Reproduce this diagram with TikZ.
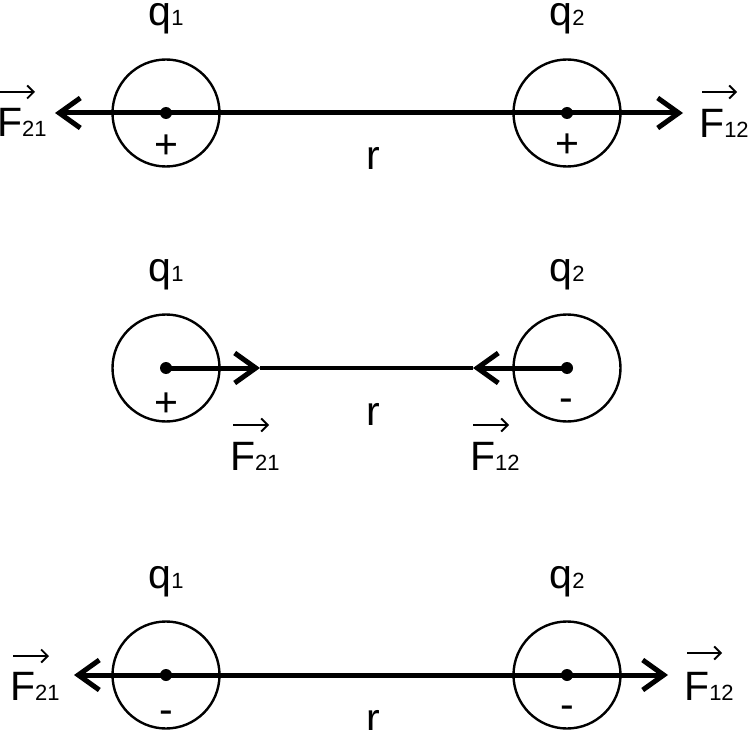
\documentclass[tikz,border=0pt]{standalone}
\usepackage{fontspec}
\setmainfont{Liberation Sans}
\usetikzlibrary{arrows.meta}
\newcommand\bigtxt{\fontsize{41}{41}\selectfont}
\newcommand\subtxt{\fontsize{22}{22}\selectfont}
\tikzset{
  charge/.style={circle, draw, line width=2.4pt, minimum size=107pt, inner sep=0pt},
  centerdot/.style={circle, fill, minimum size=12pt, inner sep=0pt},
  force/.style={line width=5pt, -{Straight Barb[length=21pt,width=30pt]}},
  thickline/.style={line width=5pt},
  thinline/.style={line width=3.6pt},
  vec/.style={line width=1.9pt, -{Straight Barb[length=6.5pt,width=13pt]}},
  lbl/.style={inner sep=0pt, anchor=base, font=\bigtxt},
  flbl/.style={inner sep=0pt, anchor=base west, font=\bigtxt},
}
\begin{document}
\begin{tikzpicture}[x=1pt,y=-1pt]
\useasboundingbox (0,0) rectangle (750,730);

% ---------- row 1 ----------
\node[charge] (c1a) at (166,113) {};
\node[charge] (c2a) at (567,113) {};
\node[centerdot] (d1a) at (166,113) {};
\node[centerdot] (d2a) at (567,113) {};
\node[lbl] (q1a) at (166,26) {q{\subtxt 1}};
\node[lbl] (q2a) at (567,26) {q{\subtxt 2}};
\node[lbl] (s1a) at (166,159) {+};
\node[lbl] (s2a) at (567,158) {+};
\node[lbl] (ra) at (373,170) {r};
\coordinate (tla) at (55,113);
\coordinate (tra) at (683,113);
\draw[thickline] (d1a.center) -- (d2a.center);
\draw[force] (d1a.center) -- (tla);
\draw[force] (d2a.center) -- (tra);
\node[flbl] (fla) at (-3,137) {F{\subtxt 21}};
\node[flbl] (fra) at (699,138) {F{\subtxt 12}};
\draw[vec] ([shift={(3,-45)}]fla.base west) -- ++(35,0);
\draw[vec] ([shift={(3,-46)}]fra.base west) -- ++(35,0);

% ---------- row 2 ----------
\node[charge] (c1b) at (166,368) {};
\node[charge] (c2b) at (567,368) {};
\node[centerdot] (d1b) at (166,368) {};
\node[centerdot] (d2b) at (567,368) {};
\node[lbl] (q1b) at (166,281) {q{\subtxt 1}};
\node[lbl] (q2b) at (567,281) {q{\subtxt 2}};
\node[lbl] (s1b) at (166,416) {+};
\node[lbl] (s2b) at (566,411) {-};
\node[lbl] (rb) at (373,425) {r};
\coordinate (tlb) at (260,368);
\coordinate (trb) at (473,368);
\draw[thinline] (tlb) -- (trb);
\draw[force] (d1b.center) -- (tlb);
\draw[force] (d2b.center) -- (trb);
\node[flbl] (flb) at (230,470) {F{\subtxt 21}};
\node[flbl] (frb) at (470,470) {F{\subtxt 12}};
\draw[vec] ([shift={(3,-45)}]flb.base west) -- ++(36,0);
\draw[vec] ([shift={(3,-45)}]frb.base west) -- ++(36,0);

% ---------- row 3 ----------
\node[charge] (c1c) at (166,675) {};
\node[charge] (c2c) at (567,675) {};
\node[centerdot] (d1c) at (166,675) {};
\node[centerdot] (d2c) at (567,675) {};
\node[lbl] (q1c) at (166,588) {q{\subtxt 1}};
\node[lbl] (q2c) at (567,588) {q{\subtxt 2}};
\node[lbl] (s1c) at (166,723) {-};
\node[lbl] (s2c) at (567,718) {-};
\node[lbl] (rc) at (373,732) {r};
\coordinate (tlc) at (74,675);
\coordinate (trc) at (668,675);
\draw[thickline] (d1c.center) -- (d2c.center);
\draw[force] (d1c.center) -- (tlc);
\draw[force] (d2c.center) -- (trc);
\node[flbl] (flc) at (10,700) {F{\subtxt 21}};
\node[flbl] (frc) at (684,700) {F{\subtxt 12}};
\draw[vec] ([shift={(3,-44)}]flc.base west) -- ++(36,0);
\draw[vec] ([shift={(3,-47)}]frc.base west) -- ++(35,0);
\end{tikzpicture}
\end{document}
